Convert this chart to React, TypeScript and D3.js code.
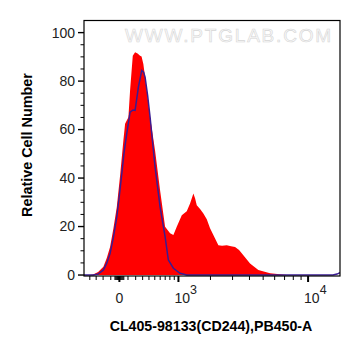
import React from "react";
import * as d3 from "d3";

// Sample (red filled histogram): fluorescence value, % of max
const sampleX = [-500, -396, -347, -271, -196, -151, -109, -68, -29, 8, 45, 65, 105, 126, 161, 192, 226, 262, 284, 311, 365, 419, 505, 598, 698, 805, 879, 959, 1085, 1219, 1313, 1412, 1464, 1518, 1626, 1739, 1861, 1984, 2184, 2323, 2486, 2707, 2921, 3132, 3356, 3611, 4039, 4627, 5581, 7237, 16000];
const sampleY = [0, 0, 0.2, 1.2, 3.4, 7, 11.6, 19.3, 28.1, 41.2, 55.6, 62.4, 65.1, 76.1, 90.5, 91.9, 91.4, 90.5, 90.1, 87.1, 76.1, 65.1, 51.4, 35, 19.9, 17.2, 16.5, 19.9, 24.7, 26.3, 29.5, 33.6, 31.7, 28.8, 27.2, 25.4, 23, 19.3, 15.1, 12.3, 12.1, 12.3, 11.9, 11.6, 10.3, 8.2, 4.8, 2.1, 0.7, 0, 0];

// Control (blue line)
const controlX = [-500, -429, -342, -271, -196, -151, -109, -68, -29, 0, 27, 53, 85, 126, 165, 192, 238, 287, 315, 338, 378, 419, 505, 598, 698, 767, 879, 1041, 1219, 14448, 15322, 16000];
const controlY = [0, 0, 0, 0.4, 2.1, 4.9, 8.9, 15.6, 24, 32.9, 41.9, 50.6, 58.3, 67.2, 68.1, 67.9, 77.5, 84.4, 83.7, 81.6, 74.1, 65.1, 44.6, 28.1, 15.8, 6.2, 2.8, 0.7, 0, 0, 0.4, 1.0];

const yMajorTicks = [0, 20, 40, 60, 80, 100];
const xMajorTicks = [0, 1000, 10000];
const xMajorLabels = [{ base: "0", exp: "" }, { base: "10", exp: "3" }, { base: "10", exp: "4" }];
const xMinorTicks = [-400, -300, -200, -100, -50, -40, -30, -20, -10, 10, 20, 30, 40, 50, 100, 200, 300, 400, 500, 600, 700, 800, 900, 2000, 3000, 4000, 5000, 6000, 7000, 8000, 9000];

const xTitle = "CL405-98133(CD244),PB450-A";
const yTitle = "Relative Cell Number";
const watermark = "WWW.PTGLAB.COM";

export default function App() {
  const W = 361, H = 356;
  const left = 84, right = 340, top = 20.5, bottom = 276;
  const font = "'Liberation Sans', Arial, sans-serif";

  const x = d3.scaleSymlog().constant(790).domain([-500, 16000]).range([left, right]);
  const y = d3.scaleLinear().domain([-0.4, 105]).range([bottom, top]);

  const sample = sampleX.map((v, i) => [v, sampleY[i]] as [number, number]);
  const control = controlX.map((v, i) => [v, controlY[i]] as [number, number]);

  const area = d3.area<[number, number]>().x(d => x(d[0])).y0(y(0)).y1(d => y(d[1]));
  const line = d3.line<[number, number]>().x(d => x(d[0])).y(d => y(d[1]));

  const yMinor = d3.range(0, 105, 5).filter(v => v % 20 !== 0);

  return (
    <svg width={W} height={H} style={{ position: "absolute", left: 0, top: 0 }} fontFamily={font}>
      <rect x={0} y={0} width={W} height={H} fill="#fff" />
      <defs>
        <clipPath id="plotclip">
          <rect x={left} y={top} width={right - left} height={bottom - top} />
        </clipPath>
      </defs>
      <text x={229} y={42} textAnchor="middle" fontSize={19} fill="#fafafa" stroke="#d6d6d6" strokeWidth={0.6} letterSpacing={1.8}>{watermark}</text>
      <g clipPath="url(#plotclip)">
        <path d={area(sample) || ""} fill="#ff0000" />
        <path d={line(control) || ""} fill="none" stroke="#3a1c92" strokeWidth={1.5} />
      </g>
      <rect x={left} y={top} width={right - left} height={bottom - top} fill="none" stroke="#000" strokeWidth={1.2} />
      {/* y axis */}
      {yMajorTicks.map(v => (
        <g key={"ym" + v}>
          <line x1={left - 6} x2={left} y1={y(v)} y2={y(v)} stroke="#000" strokeWidth={1.4} />
          <text x={left - 9} y={y(v)} dy="0.35em" textAnchor="end" fontSize={14} fill="#222">{v}</text>
        </g>
      ))}
      {yMinor.map(v => (
        <line key={"yn" + v} x1={left - 3.5} x2={left} y1={y(v)} y2={y(v)} stroke="#000" strokeWidth={1} />
      ))}
      {/* x axis */}
      {xMinorTicks.map(v => (
        <line key={"xn" + v} x1={x(v)} x2={x(v)} y1={bottom} y2={bottom + 4} stroke="#000" strokeWidth={1} />
      ))}
      {xMajorTicks.map((v, i) => (
        <g key={"xm" + v}>
          <line x1={x(v)} x2={x(v)} y1={bottom} y2={bottom + 6} stroke="#000" strokeWidth={2} />
          {xMajorLabels[i].exp === "" ? (
            <text x={x(v)} y={303} textAnchor="middle" fontSize={14} fill="#222">{xMajorLabels[i].base}</text>
          ) : (
            <text x={x(v) - 4} y={303} fontSize={14} fill="#222">
              {xMajorLabels[i].base}
              <tspan dy={-9} fontSize={12.5}>{xMajorLabels[i].exp}</tspan>
            </text>
          )}
        </g>
      ))}
      <text x={211} y={331} textAnchor="middle" fontSize={14.2} fontWeight="bold" fill="#000">{xTitle}</text>
      <text transform={`translate(32,${145}) rotate(-90)`} textAnchor="middle" fontSize={14.4} fontWeight="bold" fill="#000">{yTitle}</text>
    </svg>
  );
}
